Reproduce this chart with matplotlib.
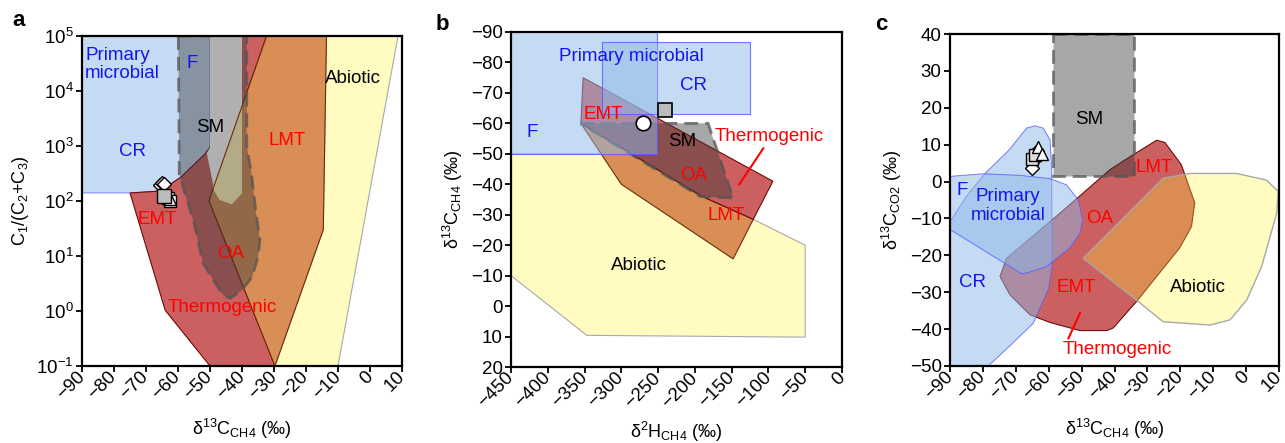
import matplotlib.pyplot as plt
from matplotlib.patches import Polygon
from matplotlib.ticker import NullLocator

plt.rcParams['font.family'] = ['Liberation Sans', 'DejaVu Sans']
plt.rcParams['mathtext.fontset'] = 'custom'
plt.rcParams['mathtext.rm'] = 'Liberation Sans'
plt.rcParams['mathtext.it'] = 'Liberation Sans:italic'
plt.rcParams['mathtext.default'] = 'regular'

# ---------------- panel a : C1/(C2+C3) vs d13C-CH4 ----------------
a_abiotic_x = [-29.7, -14.6, -13.6, 8.75, -10]
a_abiotic_y = [0.1, 30, 1e5, 1e5, 0.1]
a_micro_x = [-90, -50, -50, -51.5, -59, -63, -67, -75, -90]
a_micro_y = [1e5, 1e5, 950, 720, 275, 190, 150, 140, 140]
a_thermo_x = [-75, -64, -50, -29.7, -50.3, -49, -32.3, -40, -50, -51.5, -59, -63, -67]
a_thermo_y = [140, 1.03, 0.1, 0.1, 100, 170, 1e5, 1e5, 950, 720, 275, 190, 150]
a_lmt_x = [-32.3, -13.6, -14.6, -29.7, -50.3, -49]
a_lmt_y = [1e5, 1e5, 30, 0.1, 100, 170]
a_oa_x = [-59.9, -59.6, -58, -55, -52.2, -48, -45.9, -43.7, -40, -36.9, -35, -34.4, -35.6, -37, -38.5, -38.5]
a_oa_y = [1e5, 300, 150, 40, 7.4, 3, 1.95, 1.7, 2.4, 4.1, 9.6, 19.5, 60, 300, 1000, 1e5]
a_sm_x = [-50, -40, -40, -43.2, -46.9, -48.6, -51, -50]
a_sm_y = [1e5, 1e5, 140, 88, 105, 150, 740, 950]

a_dia_x = [-65.6, -65.0, -64.4]
a_dia_y = [195, 215, 200]
a_wsq_x = [-63.2, -62.6]
a_wsq_y = [112, 102]
a_tri_x = [-62.5]
a_tri_y = [108]
a_sq_x = [-64.4]
a_sq_y = [124]

a_labels = [('Primary\nmicrobial', -89, 3.0e4, 'blue', 'left'),
            ('F', -55.7, 3.2e4, 'blue', 'center'),
            ('SM', -50, 2150, 'black', 'center'),
            ('CR', -74.2, 790, 'blue', 'center'),
            ('LMT', -25.8, 1250, 'red', 'center'),
            ('Abiotic', -5.4, 1.66e4, 'black', 'center'),
            ('EMT', -66.5, 47, 'red', 'center'),
            ('OA', -43.4, 11, 'red', 'center'),
            ('Thermogenic', -46.3, 1.17, 'red', 'center')]

# ---------------- panel b : d13C-CH4 vs d2H-CH4 ----------------
b_abiotic_x = [-450, -327, -120.6, -50, -50, -347, -450]
b_abiotic_y = [-50, -50, -28.5, -20, 10.2, 9.6, -10]
b_lmt_x = [-355, -300, -148, -120.6, -190]
b_lmt_y = [-60, -40, -15.5, -28.5, -36]
b_thermo_x = [-352, -94, -120.6, -190, -355]
b_thermo_y = [-75, -41, -28.5, -36, -60]
b_sm_x = [-356, -182, -148, -193]
b_sm_y = [-60, -60, -35.5, -36]
b_f_x = [-460, -251.5, -251.5, -460]
b_f_y = [-95, -95, -50, -50]
b_cr_x = [-326.7, -125, -125, -326.7]
b_cr_y = [-86.8, -86.8, -63, -63]

b_circle_x = [-270]
b_circle_y = [-60.2]
b_sq_x = [-241]
b_sq_y = [-64.4]

b_labels = [('Primary microbial', -287, -81.9, 'blue', 'center'),
            ('CR', -202, -72.3, 'blue', 'center'),
            ('EMT', -325, -63, 'red', 'center'),
            ('F', -421, -57.1, 'blue', 'center'),
            ('SM', -217, -54.2, 'black', 'center'),
            ('Thermogenic', -99.3, -55.6, 'red', 'center'),
            ('OA', -202, -43, 'red', 'center'),
            ('LMT', -157.7, -29.9, 'red', 'center'),
            ('Abiotic', -276, -13.3, 'black', 'center')]
b_line_x = [-107, -139.6]
b_line_y = [-51.8, -40]

# ---------------- panel c : d13C-CO2 vs d13C-CH4 ----------------
c_thermo_x = [-74.8, -72.8, -56.6, -41.4, -36.4, -27.2, -24.7, -19.7, -15.6, -16.6, -20.2,
              -33.3, -40.4, -42.4, -50.5, -59.6, -65.7, -71.8]
c_thermo_y = [-25.7, -20.8, -8.6, 3.2, 6.1, 11.2, 10.6, 4.6, -5.8, -12.2, -18,
              -32.5, -39.7, -40.4, -40.4, -38.2, -36.1, -30.7]
c_abiotic_x = [-49.5, -25.2, -17, -3, 6.2, 9.8, 9.3, 4.7, 0.2, -4.9, -11, -25.2, -32.8]
c_abiotic_y = [-20.8, 0.9, 2.2, 2.2, 0.4, -2.7, -8.6, -23.1, -32.1, -37.5, -38.9, -38, -32.5]
c_sm_x = [-58.8, -34.1, -34.1, -58.8]
c_sm_y = [40, 40, 1.6, 1.6]
c_cr_x = [-90, -90, -85, -79, -72, -66.7, -64.2, -61.7, -59.6, -59.1, -59, -60, -64.7, -72, -78.4]
c_cr_y = [-50, -11, -4, 2.5, 8.6, 14.5, 15.1, 14.5, 11.3, 4, -23, -29, -38.4, -44.7, -50]
c_f_x = [-90, -80, -69, -59.6, -54.6, -51, -49.7, -50.5, -53.6, -60.6, -66, -68.2, -90]
c_f_y = [1.4, 2.1, 1.7, 0.8, -0.9, -5, -10.4, -14, -18, -23, -24.6, -25, -13]

c_sq_x = [-65.0, -64.3]
c_sq_y = [6.0, 7.2]
c_dia_x = [-65.0, -64.0, -63.5]
c_dia_y = [3.8, 6.5, 8.3]
c_tri_x = [-63.2, -62.0]
c_tri_y = [9.5, 7.6]

c_labels = [('SM', -47.7, 16.9, 'black', 'center'),
            ('LMT', -27.9, 3.9, 'red', 'center'),
            ('F', -86.4, -2.3, 'blue', 'center'),
            ('Primary\nmicrobial', -72.3, -6.6, 'blue', 'center'),
            ('OA', -44.4, -10, 'red', 'center'),
            ('CR', -83.1, -27.4, 'blue', 'center'),
            ('EMT', -51.7, -28.7, 'red', 'center'),
            ('Abiotic', -14.5, -28.7, 'black', 'center'),
            ('Thermogenic', -39.3, -45.5, 'red', 'center')]
c_line_x = [-50.5, -54]
c_line_y = [-35.7, -42.5]

# colours
RED = '#cc6060'
RED_EDGE = '#6e0a0a'
ORANGE = '#d98e55'
ORANGE_EDGE = '#6e2a08'
YELLOW = (1.0, 0.96, 0.2, 0.3)
YELLOW_EDGE = '#a8a8a8'
BLUE = (0.553, 0.725, 0.914, 0.5)
BLUE_EDGE = (0.35, 0.35, 1.0, 0.8)
DARK = (0.22, 0.22, 0.22, 0.44)
DASH_EDGE = (0.33, 0.33, 0.33, 0.75)
OLIVE = '#b3ab86'
TXT = {'blue': '#1414f0', 'red': '#ff0000', 'black': 'black'}
FS = 13.5


def poly(ax, xs, ys, fc, ec, lw=0.8, ls='-', z=1):
    p = Polygon(list(zip(xs, ys)), closed=True, facecolor=fc, edgecolor=ec,
                linewidth=lw, linestyle=ls, zorder=z)
    ax.add_patch(p)
    return p


def style(ax):
    for s in ax.spines.values():
        s.set_linewidth(1.6)
        s.set_zorder(10)
    ax.tick_params(direction='out', length=4, width=1.3, labelsize=13.5, pad=2)
    for t in ax.get_xticklabels():
        t.set_rotation(45)
        t.set_ha('right')
        t.set_va('center')
        t.set_rotation_mode('anchor')


def labels(ax, items):
    for txt, x, y, col, ha in items:
        ax.text(x, y, txt, color=TXT[col], fontsize=FS, ha=ha, va='center',
                zorder=20, linespacing=1.1)


fig = plt.figure(figsize=(12.85, 4.43), dpi=100)

# ---------- a ----------
ax = fig.add_axes([82/1285, 1-366/443, 320/1285, 330/443])
ax.set_yscale('log')
ax.set_xlim(-90, 10)
ax.set_ylim(0.1, 1e5)
poly(ax, a_abiotic_x, a_abiotic_y, YELLOW, YELLOW_EDGE, z=1)
poly(ax, a_micro_x, a_micro_y, BLUE, BLUE_EDGE, lw=0.6, z=2)
poly(ax, a_thermo_x, a_thermo_y, RED, RED_EDGE, z=3)
poly(ax, a_lmt_x, a_lmt_y, ORANGE, ORANGE_EDGE, z=4)
poly(ax, a_oa_x, a_oa_y, DARK, DASH_EDGE, lw=2, ls=(0, (5, 2.5)), z=5)
sm = poly(ax, a_sm_x, a_sm_y, '#b0b0b0', 'none', z=6)
ol = poly(ax, a_lmt_x, a_lmt_y, OLIVE, ORANGE_EDGE, lw=0.8, z=7)
ol.set_clip_path(sm)
ax.plot(a_dia_x, a_dia_y, 'D', ms=7, mfc='white', mec='black', mew=1, ls='none', zorder=8)
ax.plot(a_wsq_x, a_wsq_y, 's', ms=9, mfc='white', mec='black', mew=1, ls='none', zorder=8)
ax.plot(a_tri_x, a_tri_y, '^', ms=8, mfc='white', mec='black', mew=1, ls='none', zorder=8)
ax.plot(a_sq_x, a_sq_y, 's', ms=10, mfc='#bbbbbb', mec='black', mew=1, ls='none', zorder=9)
labels(ax, a_labels)
ax.set_xticks(range(-90, 11, 10))
ax.set_yticks([1e-1, 1, 10, 1e2, 1e3, 1e4, 1e5])
ax.yaxis.set_minor_locator(NullLocator())
ax.set_xlabel('δ$^{13}$C$_{CH4}$ (‰)', fontsize=13, labelpad=10)
ax.set_ylabel('C$_1$/(C$_2$+C$_3$)', fontsize=13)
style(ax)

# ---------- b ----------
ax = fig.add_axes([511/1285, 1-367/443, 331/1285, 335/443])
ax.set_xlim(-450, 0)
ax.set_ylim(20, -90)
poly(ax, b_abiotic_x, b_abiotic_y, YELLOW, YELLOW_EDGE, z=1)
poly(ax, b_lmt_x, b_lmt_y, ORANGE, ORANGE_EDGE, z=2)
poly(ax, b_thermo_x, b_thermo_y, RED, RED_EDGE, z=3)
poly(ax, b_sm_x, b_sm_y, DARK, DASH_EDGE, lw=2, ls=(0, (5, 2.5)), z=4)
poly(ax, b_f_x, b_f_y, BLUE, BLUE_EDGE, z=5)
poly(ax, b_cr_x, b_cr_y, BLUE, BLUE_EDGE, z=5)
ax.plot(b_circle_x, b_circle_y, 'o', ms=10.5, mfc='white', mec='black', mew=1.2, ls='none', zorder=8)
ax.plot(b_sq_x, b_sq_y, 's', ms=10, mfc='#bbbbbb', mec='black', mew=1.2, ls='none', zorder=8)
ax.plot(b_line_x, b_line_y, color='red', lw=1.5, zorder=8)
labels(ax, b_labels)
ax.set_xticks(range(-450, 1, 50))
ax.set_yticks(range(-90, 21, 10))
ax.set_xlabel('δ$^{2}$H$_{CH4}$ (‰)', fontsize=13, labelpad=6)
ax.set_ylabel('δ$^{13}$C$_{CH4}$ (‰)', fontsize=13)
style(ax)

# ---------- c ----------
ax = fig.add_axes([950/1285, 1-366/443, 329/1285, 332/443])
ax.set_xlim(-90, 10)
ax.set_ylim(-50, 40)
poly(ax, c_thermo_x, c_thermo_y, RED, RED_EDGE, z=1)
poly(ax, c_abiotic_x, c_abiotic_y, YELLOW, YELLOW_EDGE, lw=1, z=2)
poly(ax, c_sm_x, c_sm_y, DARK, DASH_EDGE, lw=2, ls=(0, (5, 2.5)), z=3)
poly(ax, c_cr_x, c_cr_y, BLUE, BLUE_EDGE, lw=0.7, z=4)
poly(ax, c_f_x, c_f_y, BLUE, BLUE_EDGE, lw=0.7, z=4)
ax.plot(c_dia_x, c_dia_y, 'D', ms=7, mfc='white', mec='black', mew=1, ls='none', zorder=8)
ax.plot(c_sq_x, c_sq_y, 's', ms=8, mfc='#dddddd', mec='black', mew=1, ls='none', zorder=8)
ax.plot(c_tri_x, c_tri_y, '^', ms=8, mfc='white', mec='black', mew=1, ls='none', zorder=8)
ax.plot(c_line_x, c_line_y, color='red', lw=1.5, zorder=8)
labels(ax, c_labels)
ax.set_xticks(range(-90, 11, 10))
ax.set_yticks(range(-50, 41, 10))
ax.set_xlabel('δ$^{13}$C$_{CH4}$ (‰)', fontsize=13, labelpad=10)
ax.set_ylabel('δ$^{13}$C$_{CO2}$ (‰)', fontsize=13)
style(ax)

for letter, x, y in [('a', 19, 21), ('b', 442, 24), ('c', 881, 25)]:
    fig.text(x/1285, 1-y/443, letter, fontsize=16, fontweight='bold', ha='center', va='center')

fig.savefig('out.png', dpi=100)
